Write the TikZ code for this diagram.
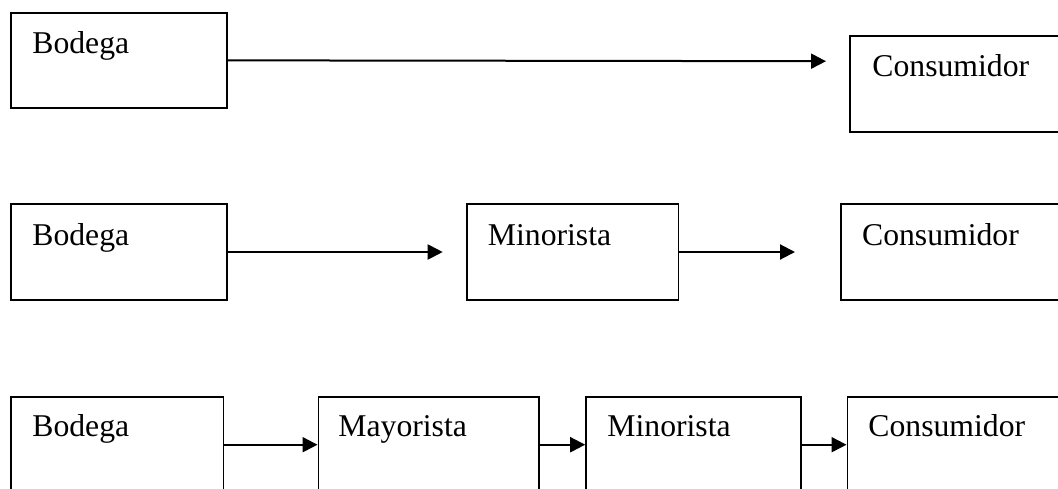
\documentclass[tikz,border=0pt]{standalone}
\usepackage{fontspec}
\setmainfont{Liberation Serif}
\usetikzlibrary{arrows.meta,fit}
\begin{document}
\begin{tikzpicture}[x=0.5pt,y=-0.5pt,
  box/.style={draw=black,line width=0.8pt,inner sep=0pt,rectangle},
  lbl/.style={anchor=base west,inner sep=0pt,font=\fontsize{15.85pt}{19pt}\selectfont},
  flow/.style={line width=1pt,-{Triangle[length=7.5pt,width=7.5pt]}}]
\useasboundingbox (0,0) rectangle (1058,488);
\clip (0,0) rectangle (1058,488);

% first chain: Bodega -> Consumidor
\node[box,fit={(11,12.7) (227,108)}] (a1) {};
\node[box,fit={(850,36) (1075,131.7)}] (a2) {};
\node[lbl] (a1t) at (32,53) {Bodega};
\node[lbl] (a2t) at (872,76.7) {Consumidor};
\coordinate (a2in) at (826,61.2);
\draw[flow] (a1.east) -- (a2in);

% second chain: Bodega -> Minorista -> Consumidor
\node[box,fit={(11,204) (227,300)}] (b1) {};
\node[box,fit={(466.7,204) (678.3,300)}] (b2) {};
\node[box,fit={(841,204) (1075,300)}] (b3) {};
\node[lbl] (b1t) at (32,245) {Bodega};
\node[lbl] (b2t) at (487.5,245) {Minorista};
\node[lbl] (b3t) at (861.7,245) {Consumidor};
\coordinate (b2in) at (442.7,252);
\coordinate (b3in) at (795,252);
\draw[flow] (b1.east) -- (b2in);
\draw[flow] (b2.east) -- (b3in);

% third chain: Bodega -> Mayorista -> Minorista -> Consumidor
\node[box,fit={(11,396.7) (223.3,492.7)}] (c1) {};
\node[box,fit={(318.3,396.7) (539,492.7)}] (c2) {};
\node[box,fit={(586,396.7) (800.7,492.7)}] (c3) {};
\node[box,fit={(847.3,396.7) (1075,492.7)}] (c4) {};
\node[lbl] (c1t) at (32,436.7) {Bodega};
\node[lbl] (c2t) at (338,436.7) {Mayorista};
\node[lbl] (c3t) at (607,436.7) {Minorista};
\node[lbl] (c4t) at (868,436.7) {Consumidor};
\draw[flow] (c1.east) -- (c2.west);
\draw[flow] (c2.east) -- (c3.west);
\draw[flow] (c3.east) -- (c4.west);
\end{tikzpicture}
\end{document}
